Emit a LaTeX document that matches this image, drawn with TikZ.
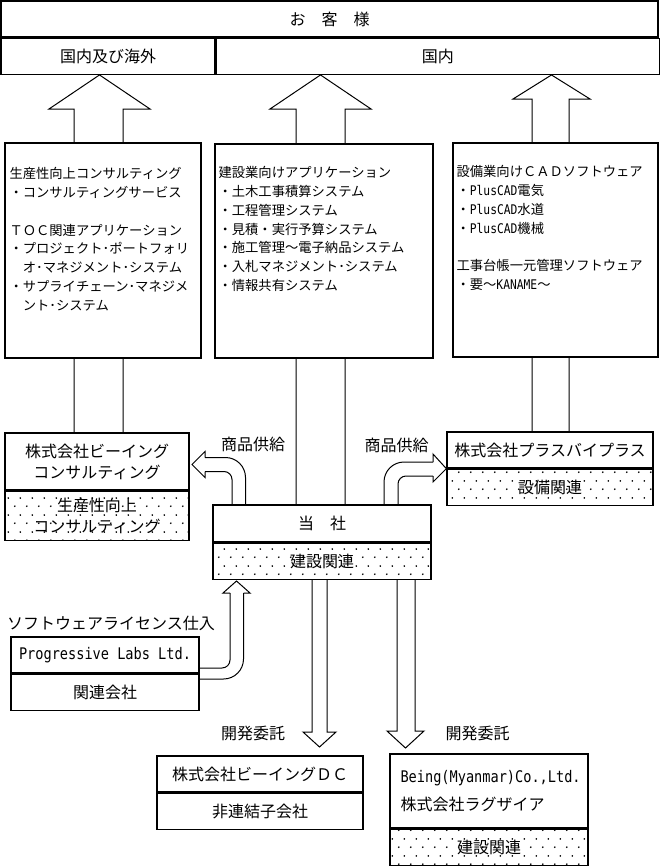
\documentclass[tikz,border=0pt]{standalone}
\usepackage{fontspec}
\setmainfont{Noto Sans CJK JP}
\newfontfamily\hanfont[FakeStretch=0.85]{DejaVu Sans Mono}
\usetikzlibrary{positioning,patterns,backgrounds}

\newcommand\han[1]{{\hanfont #1}}

\pgfdeclarepatternformonly{sparsedots}{\pgfqpoint{0pt}{0pt}}{\pgfqpoint{12pt}{17pt}}{\pgfqpoint{12pt}{17pt}}{%
  \pgfpathcircle{\pgfqpoint{3pt}{4pt}}{0.95pt}%
  \pgfpathcircle{\pgfqpoint{9pt}{12.5pt}}{0.95pt}%
  \pgfusepath{fill}}

\tikzset{
  box/.style={draw, line width=1.3pt, fill=white, inner sep=2pt, align=center,
    font=\fontsize{16}{21}\selectfont},
  dotbox/.style={box, pattern=sparsedots},
  listbox/.style={draw, line width=1.3pt, fill=white},
  listtxt/.style={inner sep=0pt, align=left, anchor=north west,
    font=\fontsize{13.3}{18.8}\selectfont},
  lbl/.style={font=\fontsize{16}{21}\selectfont, inner sep=0pt},
  blockarr/.style={line width=1pt}
}

\begin{document}
\begin{tikzpicture}[x=1pt, y=-1pt]
\path[use as bounding box] (0,0) rectangle (660,867);

% customers
\node[box, minimum width=657, minimum height=36] (hdr) at (329.5,19) {お　客　様};
\node[box, minimum width=214, minimum height=36, below right=0pt of hdr.south west] (hdrL) {国内及び海外};
\node[box, minimum width=443, minimum height=36, right=0pt of hdrL] (hdrR) {国内};

% product lists
\node[listbox, minimum width=196, minimum height=215] (listL) at (103,250.5) {};
\node[listbox, minimum width=218, minimum height=214] (listM) at (324,251) {};
\node[listbox, minimum width=205, minimum height=214] (listR) at (555.5,250) {};

\node[listtxt] (listLt) at ([shift={(5,25)}]listL.north west)
  {生産性向上コンサルティング\\・コンサルティングサービス\\[18.8pt]
   ＴＯＣ関連アプリケーション\\・プロジェクト･ポートフォリ\\　オ･マネジメント･システム\\
   ・サプライチェーン･マネジメ\\　ント･システム};
\node[listtxt] (listMt) at ([shift={(4,23)}]listM.north west)
  {建設業向けアプリケーション\\・土木工事積算システム\\・工程管理システム\\
   ・見積・実行予算システム\\・施工管理～電子納品システム\\
   ・入札マネジメント･システム\\・情報共有システム};
\node[listtxt] (listRt) at ([shift={(4,23)}]listR.north west)
  {設備業向けＣＡＤソフトウェア\\・\han{PlusCAD}電気\\・\han{PlusCAD}水道\\
   ・\han{PlusCAD}機械\\[18.8pt]工事台帳一元管理ソフトウェア\\・要～\han{KANAME}～};

% companies
\node[box, minimum width=184, minimum height=57] (beingU) at (97,461.5) {株式会社ビーイング\\コンサルティング};
\node[dotbox, minimum width=184, minimum height=49, below=0pt of beingU] (beingL) {生産性向上\\コンサルティング};

\node[box, minimum width=206, minimum height=36] (plusU) at (550,450) {株式会社プラスバイプラス};
\node[dotbox, minimum width=206, minimum height=36, below=0pt of plusU] (plusL) {設備関連};

\node[box, minimum width=218, minimum height=37] (toshaU) at (322,523.5) {当　社};
\node[dotbox, minimum width=218, minimum height=36, below=0pt of toshaU] (toshaL) {建設関連};

\node[box, minimum width=188, minimum height=36] (progU) at (105,655) {\han{Progressive Labs Ltd.}};
\node[box, minimum width=188, minimum height=36, below=0pt of progU] (progL) {関連会社};

\node[box, minimum width=206, minimum height=36] (dcU) at (260,774) {株式会社ビーイングＤＣ};
\node[box, minimum width=206, minimum height=36, below=0pt of dcU] (dcL) {非連結子会社};

\node[box, minimum width=198, minimum height=74] (myanU) at (489,791) {};
\node[lbl, align=left, anchor=west, font=\fontsize{16}{28}\selectfont] (myanT) at ([xshift=11]myanU.west)
  {\han{Being(Myanmar)Co.,Ltd.}\\株式会社ラグザイア};
\node[dotbox, minimum width=198, minimum height=36, below=0pt of myanU] (myanL) {建設関連};

% labels
\node[lbl] (supplyL) at (253,444) {商品供給};
\node[lbl] (supplyR) at (396.5,445) {商品供給};
\node[lbl] (license) at (111,623) {ソフトウェアライセンス仕入};
\node[lbl] (devL) at (253,733) {開発委託};
\node[lbl] (devR) at (477.5,733) {開発委託};

\begin{scope}[on background layer]
\fill[white] (0,0) rectangle (660,867);

% up to the customers
\foreach \xl/\xr/\hl/\hr/\hb/\src in {74/123/49/150/109/beingU, 296/345/270/371/109/toshaU, 532/569/513/590/99/plusU}
  \draw[blockarr] (\xl,0 |- \src.north) -- (\xl,\hb) -- (\hl,\hb)
    -- ({(\hl+\hr)/2},0 |- hdrL.south) -- (\hr,\hb) -- (\xr,\hb) -- (\xr,0 |- \src.north);

% development orders
\foreach \xl/\xr/\hl/\hr/\hb/\tip in {312/327/303/336/732/747, 397/415/387/424/731/748}
  \draw[blockarr] (\xl,0 |- toshaL.south) -- (\xl,\hb) -- (\hl,\hb)
    -- ({(\hl+\hr)/2},\tip) -- (\hr,\hb) -- (\xr,\hb) -- (\xr,0 |- toshaL.south);

% supply to the left
\draw[blockarr, rounded corners=8] (232,0 |- toshaU.north) -- (232,471.5) -- (205,471.5);
\draw[blockarr] (205,471.5) -- (205,477.5) -- (192,464.5) -- (205,451.5) -- (205,457.5);
\draw[blockarr, rounded corners=20] (205,457.5) -- (245.5,457.5) -- (245.5,0 |- toshaU.north);

% supply to the right
\draw[blockarr, rounded corners=20] (384,0 |- toshaU.north) -- (384,462) -- (433,462);
\draw[blockarr] (433,462) -- (433,454) -- (plusU.south west) -- (433,482) -- (433,476);
\draw[blockarr, rounded corners=8] (433,476) -- (398,476) -- (398,0 |- toshaU.north);

% licence purchase
\draw[blockarr, rounded corners=8] (progU.east |- 0,668) -- (230,668) -- (230,593);
\draw[blockarr] (230,593) -- (223,593) -- (236.5,581) -- (250,593) -- (243.5,593);
\draw[blockarr, rounded corners=20] (243.5,593) -- (243.5,679) -- (progL.east |- 0,679);
\end{scope}

\end{tikzpicture}
\end{document}
